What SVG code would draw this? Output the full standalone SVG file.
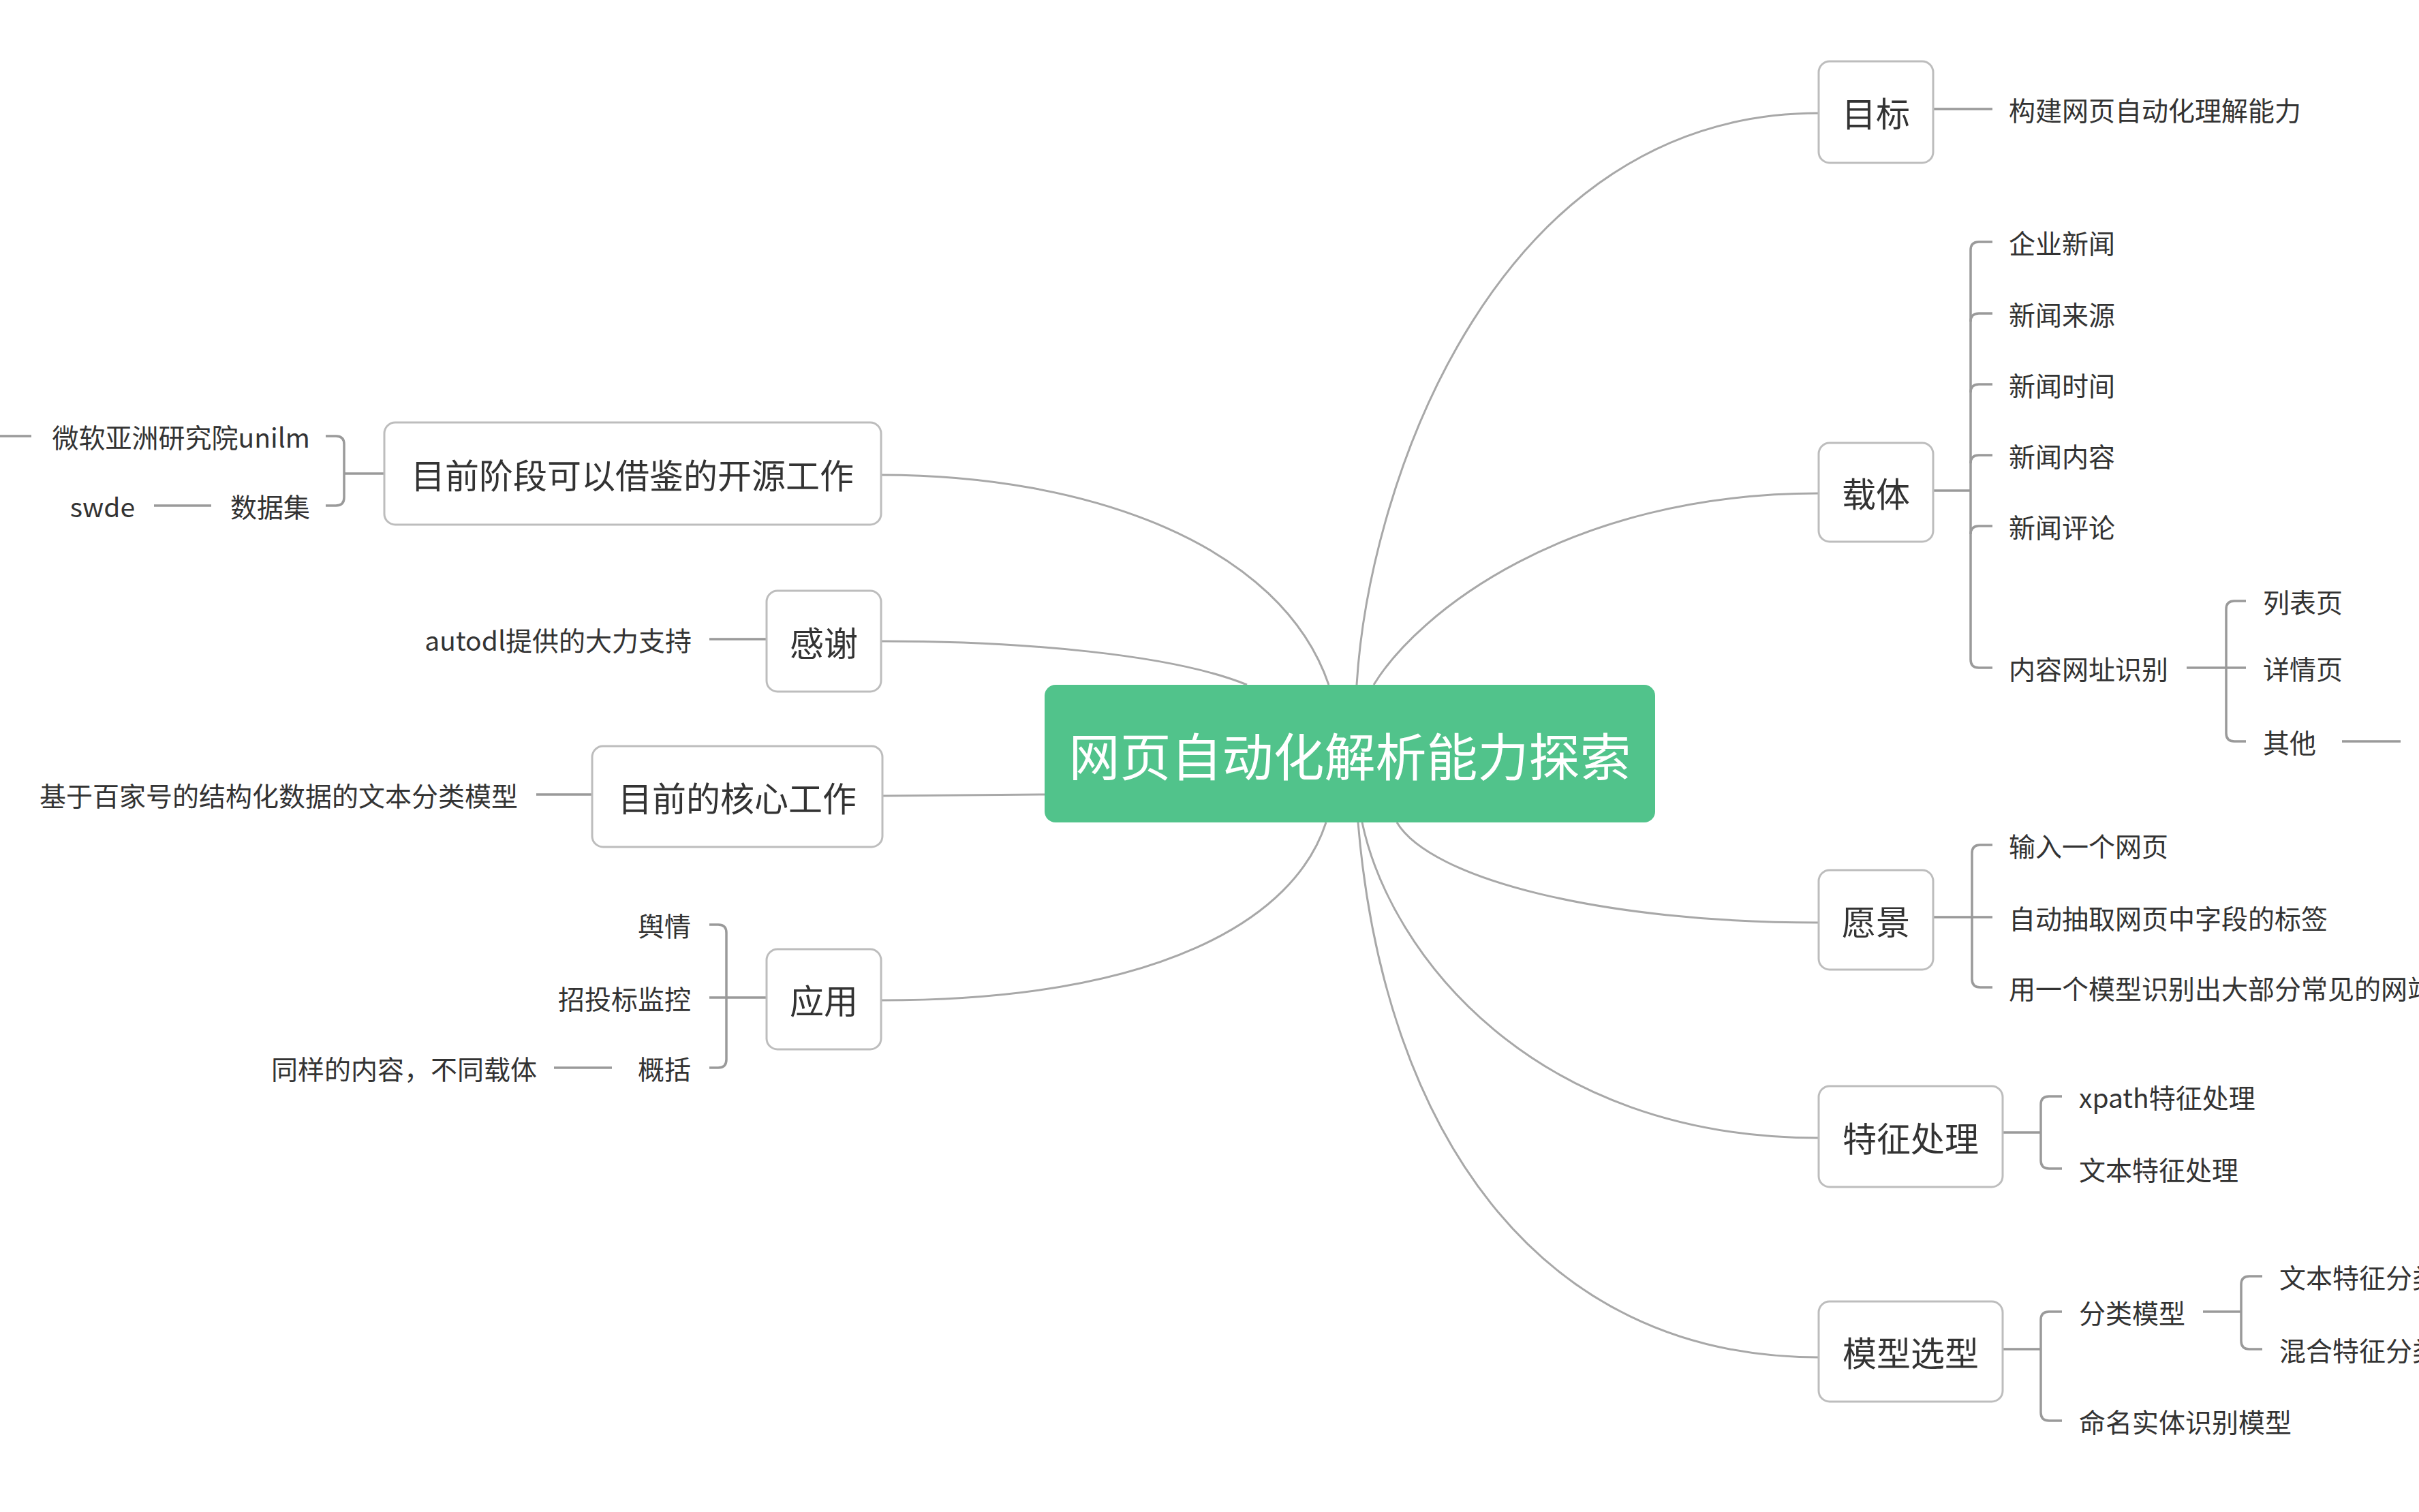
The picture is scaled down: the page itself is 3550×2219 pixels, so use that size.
<svg xmlns="http://www.w3.org/2000/svg" width="3550" height="2219" viewBox="0 0 3550 2219">
<style>
text{font-family:"Noto Sans CJK SC","Noto Sans",sans-serif;fill:#333;dominant-baseline:central}
.node{fill:#fff;stroke:#bdbdbd;stroke-width:3}
.nt{font-size:50px;text-anchor:middle}
.ct{font-size:75px;text-anchor:middle;fill:#fff}
.lt{font-size:39px}
.le{font-size:39px;text-anchor:end}
.curve{fill:none;stroke:#a8a8a8;stroke-width:3}
.br{fill:none;stroke:#9a9a9a;stroke-width:3.5}
</style>
<rect width="3550" height="2219" fill="#fff"/>
<g id="connectors">
<path class="curve" d="M1991,1005 C2010,700 2200,166 2669,166"/>
<path class="curve" d="M2016,1005 C2080,900 2300,724 2669,724"/>
<path class="curve" d="M1950,1005 C1880,800 1600,697 1293,697"/>
<path class="curve" d="M1830,1005 C1720,960 1500,941 1293,941"/>
<path class="curve" d="M1533,1166 L1295,1168"/>
<path class="curve" d="M1946,1207 C1900,1350 1700,1468 1293,1468"/>
<path class="curve" d="M2050,1207 C2100,1290 2350,1354 2669,1354"/>
<path class="curve" d="M1999,1207 C2040,1400 2250,1670 2669,1670"/>
<path class="curve" d="M1993,1207 C2030,1650 2250,1992 2669,1992"/>
<path class="br" d="M2837,160 L2924,160"/>
<path class="br" d="M2837,720 L2892,720"/>
<path class="br" d="M2924,355 L2904,355 Q2892,355 2892,367 L2892,968 Q2892,980 2904,980 L2924,980"/>
<path class="br" d="M2892,472 Q2892,460 2904,460 L2924,460"/>
<path class="br" d="M2892,576 Q2892,564 2904,564 L2924,564"/>
<path class="br" d="M2892,680 Q2892,668 2904,668 L2924,668"/>
<path class="br" d="M2892,784 Q2892,772 2904,772 L2924,772"/>
<path class="br" d="M3209,980 L3296,980"/>
<path class="br" d="M3296,882 L3279,882 Q3267,882 3267,894 L3267,1076 Q3267,1088 3279,1088 L3296,1088"/>
<path class="br" d="M3437,1088 L3523,1088"/>
<path class="br" d="M2837,1346 L2924,1346"/>
<path class="br" d="M2924,1240 L2906,1240 Q2894,1240 2894,1252 L2894,1437 Q2894,1449 2906,1449 L2924,1449"/>
<path class="br" d="M2939,1662 L2995,1662"/>
<path class="br" d="M3026,1609 L3007,1609 Q2995,1609 2995,1621 L2995,1703 Q2995,1715 3007,1715 L3026,1715"/>
<path class="br" d="M2939,1980 L2995,1980"/>
<path class="br" d="M3026,1925 L3007,1925 Q2995,1925 2995,1937 L2995,2073 Q2995,2085 3007,2085 L3026,2085"/>
<path class="br" d="M3233,1925 L3289,1925"/>
<path class="br" d="M3320,1873 L3301,1873 Q3289,1873 3289,1885 L3289,1968 Q3289,1980 3301,1980 L3320,1980"/>
<path class="br" d="M564,695 L505,695"/>
<path class="br" d="M478,640 L493,640 Q505,640 505,652 L505,730 Q505,742 493,742 L478,742"/>
<path class="br" d="M0,640 L46,640"/>
<path class="br" d="M226,742 L310,742"/>
<path class="br" d="M1125,938 L1041,938"/>
<path class="br" d="M869,1166 L787,1166"/>
<path class="br" d="M1125,1464 L1041,1464"/>
<path class="br" d="M1041,1357 L1054,1357 Q1066,1357 1066,1369 L1066,1555 Q1066,1567 1054,1567 L1041,1567"/>
<path class="br" d="M898,1567 L813,1567"/>
</g>
<g id="central">
<rect x="1533" y="1005" width="896" height="202" rx="16" fill="#51c38b"/>
<text class="ct" x="1981" y="1106">网页自动化解析能力探索</text>
</g>
<g id="n-mubiao">
<rect class="node" x="2669" y="90" width="168" height="149" rx="16"/>
<text class="nt" x="2753" y="164">目标</text>
<text class="lt" x="2948" y="160">构建网页自动化理解能力</text>
</g>
<g id="n-zaiti">
<rect class="node" x="2669" y="650" width="168" height="145" rx="16"/>
<text class="nt" x="2753" y="722">载体</text>
<text class="lt" x="2948" y="355">企业新闻</text>
<text class="lt" x="2948" y="460">新闻来源</text>
<text class="lt" x="2948" y="564">新闻时间</text>
<text class="lt" x="2948" y="668">新闻内容</text>
<text class="lt" x="2948" y="772">新闻评论</text>
<text class="lt" x="2948" y="980">内容网址识别</text>
<text class="lt" x="3321" y="882">列表页</text>
<text class="lt" x="3321" y="980">详情页</text>
<text class="lt" x="3321" y="1088">其他</text>
</g>
<g id="n-yuanjing">
<rect class="node" x="2669" y="1277" width="168" height="146" rx="16"/>
<text class="nt" x="2753" y="1350">愿景</text>
<text class="lt" x="2948" y="1240">输入一个网页</text>
<text class="lt" x="2948" y="1346">自动抽取网页中字段的标签</text>
<text class="lt" x="2948" y="1449">用一个模型识别出大部分常见的网站</text>
</g>
<g id="n-tezheng">
<rect class="node" x="2669" y="1594" width="270" height="148" rx="16"/>
<text class="nt" x="2804" y="1668">特征处理</text>
<text class="lt" x="3051" y="1609">xpath特征处理</text>
<text class="lt" x="3051" y="1715">文本特征处理</text>
</g>
<g id="n-moxing">
<rect class="node" x="2669" y="1910" width="270" height="147" rx="16"/>
<text class="nt" x="2804" y="1983">模型选型</text>
<text class="lt" x="3051" y="1925">分类模型</text>
<text class="lt" x="3051" y="2085">命名实体识别模型</text>
<text class="lt" x="3345" y="1873">文本特征分类模型</text>
<text class="lt" x="3345" y="1980">混合特征分类模型</text>
</g>
<g id="n-kaiyuan">
<rect class="node" x="564" y="620" width="729" height="150" rx="16"/>
<text class="nt" x="928" y="695">目前阶段可以借鉴的开源工作</text>
<text class="le" x="455" y="640">微软亚洲研究院unilm</text>
<text class="le" x="455" y="742">数据集</text>
<text class="le" x="198" y="742">swde</text>
</g>
<g id="n-ganxie">
<rect class="node" x="1125" y="867" width="168" height="148" rx="16"/>
<text class="nt" x="1209" y="941">感谢</text>
<text class="le" x="1015" y="938">autodl提供的大力支持</text>
</g>
<g id="n-hexin">
<rect class="node" x="869" y="1095" width="426" height="148" rx="16"/>
<text class="nt" x="1082" y="1169">目前的核心工作</text>
<text class="le" x="760" y="1166">基于百家号的结构化数据的文本分类模型</text>
</g>
<g id="n-yingyong">
<rect class="node" x="1125" y="1393" width="168" height="147" rx="16"/>
<text class="nt" x="1209" y="1466">应用</text>
<text class="le" x="1014" y="1357">舆情</text>
<text class="le" x="1014" y="1464">招投标监控</text>
<text class="le" x="1014" y="1567">概括</text>
<text class="le" x="788" y="1567">同样的内容，不同载体</text>
</g>
</svg>
